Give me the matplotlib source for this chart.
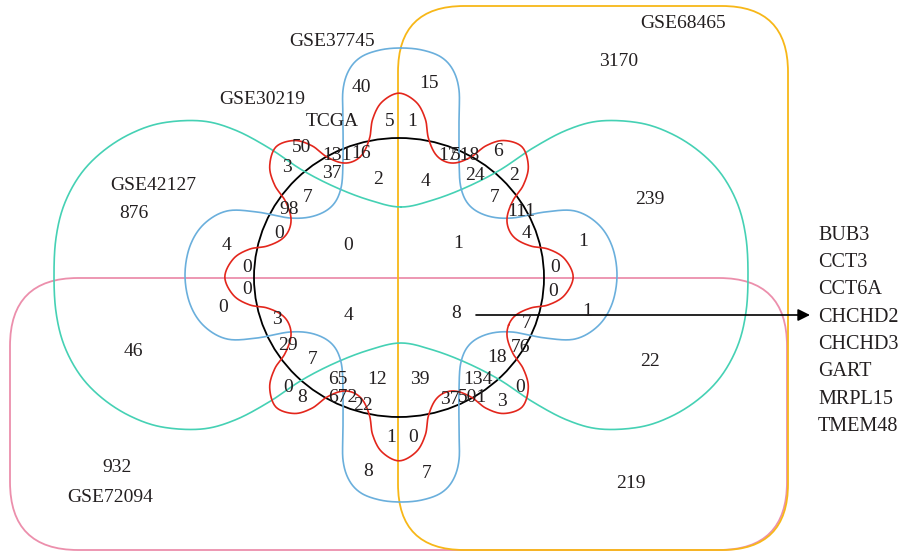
import numpy as np
import matplotlib
matplotlib.use("Agg")
import matplotlib.pyplot as plt
from matplotlib.patches import FancyBboxPatch, Ellipse

# --- data -------------------------------------------------------------
set_names = ["GSE68465", "GSE37745", "GSE30219", "TCGA", "GSE42127", "GSE72094"]
set_name_xy = [(683, 23), (332, 42), (262, 100), (332, 122), (153, 185), (110, 498)]

region_counts = [3170, 40, 15, 5, 1, 50, 131, 16, 17, 518, 6, 3, 37, 2, 4, 24, 2,
                 7, 7, 98, 111, 0, 4, 4, 0, 1, 1, 0, 0, 0, 0, 0, 4, 8, 1, 3, 7,
                 29, 76, 7, 18, 46, 22, 239, 876, 0, 8, 65, 12, 39, 134, 0, 672,
                 22, 37, 501, 3, 1, 0, 8, 7, 932, 219]
region_xy = [(619, 61), (361, 88), (429, 84), (390, 122), (412, 122), (302, 148),
             (337, 155), (361, 154), (448, 155), (465, 155), (498, 152), (287, 168),
             (332, 173), (378, 179), (425, 182), (475, 175), (514, 175), (308, 197),
             (495, 197), (289, 209), (521, 211), (279, 233), (526, 233), (226, 245),
             (348, 245), (458, 243), (583, 242), (247, 268), (555, 268), (247, 290),
             (553, 292), (223, 307), (348, 316), (456, 313), (587, 311), (277, 320),
             (527, 324), (288, 346), (520, 347), (313, 360), (497, 358), (133, 352),
             (650, 362), (650, 199), (134, 214), (288, 387), (302, 398), (338, 380),
             (377, 379), (420, 380), (478, 380), (520, 387), (343, 398), (363, 405),
             (450, 400), (472, 397), (502, 402), (391, 437), (413, 438), (368, 471),
             (427, 473), (117, 467), (631, 483)]

genes = ["BUB3", "CCT3", "CCT6A", "CHCHD2", "CHCHD3", "GART", "MRPL15", "TMEM48"]

FONT = "Liberation Serif"
TXT = "#231f20"


def spline_cerrado(pts, n=24):
    """Catmull-Rom cerrado a traves de los puntos."""
    P = np.asarray(pts, float)
    N = len(P)
    t = np.linspace(0, 1, n, endpoint=False)[:, None]
    out = []
    for i in range(N):
        p0, p1, p2, p3 = P[i - 1], P[i], P[(i + 1) % N], P[(i + 2) % N]
        out.append(0.5 * (2 * p1 + (-p0 + p2) * t
                          + (2 * p0 - 5 * p1 + 4 * p2 - p3) * t ** 2
                          + (-p0 + 3 * p1 - 3 * p2 + p3) * t ** 3))
    out = np.vstack(out)
    return np.vstack([out, out[:1]])


def espejo4(q, cx, cy):
    """Cuarto superior derecho (de arriba a la derecha) -> contorno completo."""
    q = np.asarray(q, float)
    lr = np.column_stack([q[:, 0], 2 * cy - q[:, 1]])[::-1][1:]
    ll = np.column_stack([2 * cx - q[:, 0], 2 * cy - q[:, 1]])[1:]
    ul = np.column_stack([2 * cx - q[:, 0], q[:, 1]])[::-1][1:-1]
    return np.vstack([q, lr, ll, ul])


fig = plt.figure(figsize=(9.05, 5.54), dpi=100)
ax = fig.add_axes([0, 0, 1, 1])
ax.set_xlim(0, 905)
ax.set_ylim(554, 0)
ax.axis("off")

# GSE72094 (rosa) y GSE68465 (amarillo)
ax.add_patch(FancyBboxPatch((10, 278), 777, 272, boxstyle="round,pad=0,rounding_size=68",
                            fill=False, ec="#ec8fac", lw=1.3))
ax.add_patch(FancyBboxPatch((398, 6), 390, 544, boxstyle="round,pad=0,rounding_size=66",
                            fill=False, ec="#f7b718", lw=1.3))

# GSE42127 (turquesa)
cuarto_teal = [(401, 207), (433, 200), (467, 187), (500, 170), (533, 148), (567, 130),
               (600, 121), (640, 123), (672, 134), (700, 152), (722, 175), (738, 205),
               (746, 238), (748, 275)]
teal = spline_cerrado(espejo4(cuarto_teal, 401, 275))
ax.plot(teal[:, 0], teal[:, 1], color="#45d1b4", lw=1.2)

# GSE37745 (azul)
cuarto_azul = [(401, 48), (422, 50), (441, 57), (453, 70), (459, 90), (459, 120),
               (459, 160), (461, 188), (470, 206), (488, 216), (512, 218), (545, 212),
               (575, 211), (598, 224), (612, 246), (617, 275)]
azul = spline_cerrado(espejo4(cuarto_azul, 401, 275))
ax.plot(azul[:, 0], azul[:, 1], color="#6aafdc", lw=1.2)

# GSE30219 (rojo): 8 petalos alrededor del circulo
perfil = [(-22.5, 122), (-17, 126), (-12.5, 139), (-10, 156), (-6, 171), (0, 179),
          (6, 171), (10, 156), (12.5, 139), (17, 126)]
pts_rojo = []
for k in range(8):
    for d, rr in perfil:
        a = np.radians(k * 45 + d)
        pts_rojo.append((399 + 0.973 * rr * np.cos(a), 277 - 1.027 * rr * np.sin(a)))
rojo = spline_cerrado(pts_rojo, n=16)
ax.plot(rojo[:, 0], rojo[:, 1], color="#e3261c", lw=1.2)

# TCGA (negro)
ax.add_patch(Ellipse((399, 277.5), 290, 279, fill=False, ec="black", lw=1.3))

# flecha y lista de genes
ax.annotate("", xy=(810, 315), xytext=(476, 315),
            arrowprops=dict(arrowstyle="-|>", color="black", lw=1.2,
                            mutation_scale=18, shrinkA=0, shrinkB=0))
for i, g in enumerate(genes):
    ax.text(818, 235 + 27.4 * i, g, ha="left", va="center", fontsize=14.5,
            family=FONT, color=TXT)

for name, (x, y) in zip(set_names, set_name_xy):
    ax.text(x, y, name, ha="center", va="center", fontsize=14, family=FONT, color=TXT)

for c, (x, y) in zip(region_counts, region_xy):
    ax.text(x, y, str(c), ha="center", va="center", fontsize=14, family=FONT, color=TXT)

fig.savefig("out.png", dpi=100)
